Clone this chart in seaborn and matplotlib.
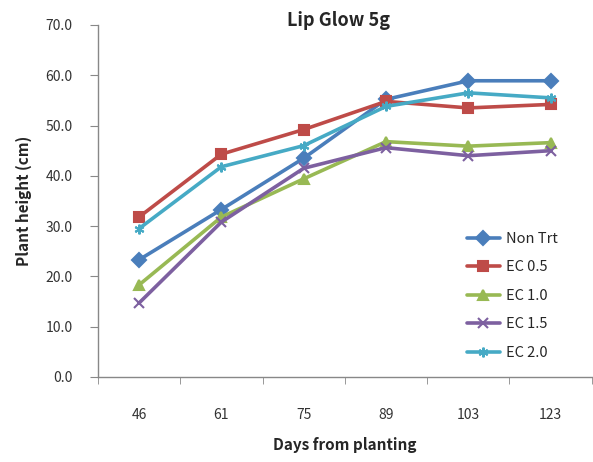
import matplotlib
matplotlib.use("Agg")
import matplotlib.pyplot as plt
import seaborn as sns
import pandas as pd
from matplotlib.ticker import FixedLocator

days = ["46", "61", "75", "89", "103", "123"]
series_names = ["Non Trt", "EC 0.5", "EC 1.0", "EC 1.5", "EC 2.0"]
non_trt = [23.3, 33.3, 43.5, 55.2, 58.9, 58.9]
ec_05 = [31.8, 44.3, 49.2, 54.8, 53.5, 54.2]
ec_10 = [18.3, 31.8, 39.4, 46.8, 45.9, 46.6]
ec_15 = [14.7, 30.8, 41.5, 45.6, 44.0, 45.0]
ec_20 = [29.5, 41.8, 46.0, 53.8, 56.5, 55.5]
y_ticks = [0, 10, 20, 30, 40, 50, 60, 70]

values = [non_trt, ec_05, ec_10, ec_15, ec_20]
rows = []
for name, vals in zip(series_names, values):
    for d, v in zip(days, vals):
        rows.append({"Days": d, "Height": v, "Treatment": name})
df = pd.DataFrame(rows)

sns.set_style("white")
plt.rcParams["font.family"] = ["Noto Sans CJK KR", "DejaVu Sans"]

colors = ["#4A7EBB", "#BE4B48", "#98B954", "#7D60A0", "#46AAC5"]
markers = ["D", "s", "^", "x", (6, 2, 0)]

fig = plt.figure(figsize=(5.93, 4.62), dpi=100)
ax = fig.add_axes([0.165, 0.184, 0.833, 0.762])

sns.pointplot(data=df, x="Days", y="Height", hue="Treatment", order=days,
              hue_order=series_names, palette=colors, markers=markers,
              linestyles="-", dodge=False, errorbar=None, ax=ax,
              markersize=7, linewidth=2.6)

for line in ax.lines:
    line.set_markeredgewidth(1.5)

ax.set_ylim(0, 70)
ax.set_xlim(-0.5, 5.5)
ax.set_yticks(y_ticks)
ax.set_yticklabels([f"{t:.1f}" for t in y_ticks], fontsize=10, color="#333333")
ax.set_xticks(range(len(days)))
ax.set_xticklabels(days, fontsize=10, color="#333333")
ax.xaxis.set_minor_locator(FixedLocator([i + 0.5 for i in range(-1, len(days))]))
ax.tick_params(axis="x", which="major", length=0, pad=22)
ax.tick_params(axis="x", which="minor", length=5, color="#888888", direction="out", bottom=True)
ax.tick_params(axis="y", length=6, color="#888888", direction="out", left=True, pad=12)

for s in ["top", "right"]:
    ax.spines[s].set_visible(False)
for s in ["left", "bottom"]:
    ax.spines[s].set_color("#888888")
    ax.spines[s].set_linewidth(1.0)

ax.set_xlabel("Days from planting", fontsize=11, fontweight="bold", labelpad=11)
ax.set_ylabel("Plant height (cm)", fontsize=11, fontweight="bold", labelpad=10)

fig.text(0.57, 0.955, "Lip Glow 5g", ha="center", va="center", fontsize=13, fontweight="bold")

handles, labels = ax.get_legend_handles_labels()
ax.legend(handles, labels, loc="upper left", bbox_to_anchor=(0.72, 0.45), frameon=False,
          fontsize=10.5, handlelength=2.3, labelspacing=1.0, handletextpad=0.4)

fig.savefig("out.png", dpi=100)
